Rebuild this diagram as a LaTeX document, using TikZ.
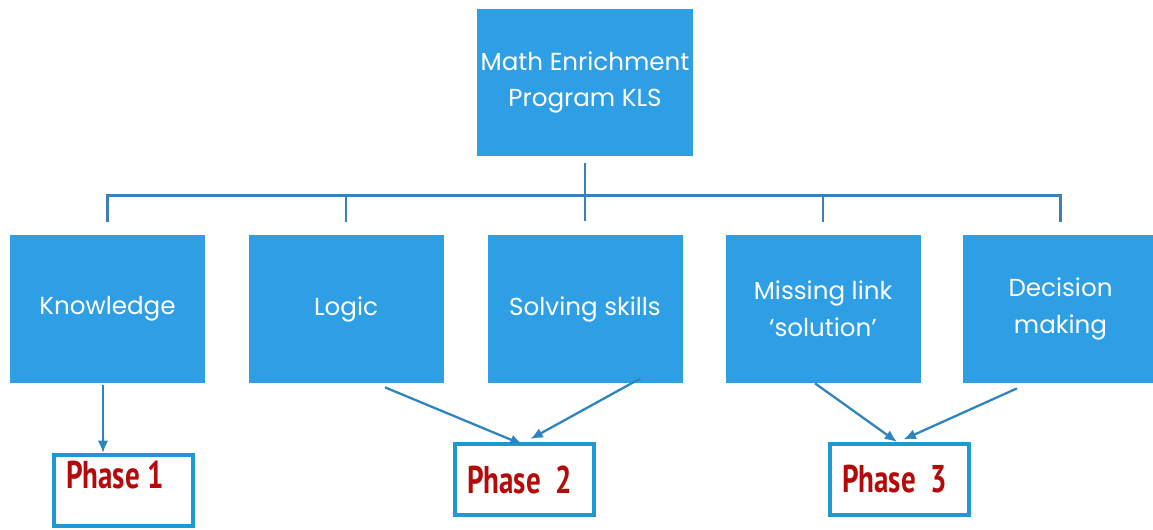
\documentclass[tikz,border=0pt]{standalone}
\usepackage{fontspec}
\usetikzlibrary{arrows.meta}
\setmainfont{Poppins}
\newfontfamily\phasefont[FakeStretch=0.75]{PT Sans}
\newcommand{\phaselabel}[1]{\makebox[2.3cm][l]{#1}}
\definecolor{boxblue}{HTML}{2E9FE5}
\definecolor{lineblue}{HTML}{3F7FB4}
\definecolor{arrowblue}{HTML}{2D85C0}
\definecolor{phasered}{HTML}{B40A0A}
\definecolor{frameblue}{HTML}{1D9BD0}

\begin{document}
\begin{tikzpicture}[
  mainbox/.style={fill=boxblue, text=white, minimum width=3.9cm,
    minimum height=2.96cm, align=center, inner sep=2pt,
    font=\fontsize{14}{21}\selectfont},
  phasebox/.style={draw=frameblue, line width=2.3pt, fill=white,
    inner xsep=0.24cm, inner ysep=0pt, minimum width=2.78cm,
    minimum height=1.42cm, text=phasered,
    font=\phasefont\bfseries\fontsize{22}{26}\selectfont},
  flow/.style={draw=arrowblue, line width=1.3pt, -{Latex[length=7pt,width=6pt]}},
  bus/.style={draw=lineblue, line width=1.6pt}]
\useasboundingbox (0,0) rectangle (23.06,10.58);

\node[mainbox, minimum width=4.3cm, minimum height=2.94cm] (mep) at (11.70,8.93)
     {Math Enrichment\\Program KLS};

\node[mainbox] (know) at (2.15,4.4)  {Knowledge};
\node[mainbox] (logic) at (6.92,4.4)  {Logic};
\node[mainbox] (solve) at (11.70,4.4)  {Solving skills};
\node[mainbox] (link) at (16.46,4.4)  {Missing link\\`solution'};
\node[mainbox] (dec) at (21.21,4.4)  {Decision\\making};

\node[phasebox, text height=0.5cm, text depth=0.6cm] (ph1) at (2.47,0.77)
     {\phaselabel{Phase 1}};
\node[phasebox] (ph2) at (10.49,0.99)  {\phaselabel{Phase\ \ 2}};
\node[phasebox] (ph3) at (17.99,0.99)  {\phaselabel{Phase\ \ 3}};

% tree
\draw[bus] ([yshift=-0.14cm]mep.south) -- ([yshift=0.28cm]solve.north);
\draw[bus] ([yshift=0.26cm]know.north) |- ([yshift=0.78cm]solve.north)
     -| ([yshift=0.26cm]dec.north);
\draw[bus] ([yshift=0.26cm]logic.north) -- ([yshift=0.78cm]logic.north);
\draw[bus] ([yshift=0.26cm]link.north) -- ([yshift=0.78cm]link.north);

% phases
\draw[flow] ([xshift=-0.09cm,yshift=-0.04cm]know.south)
     -- ([xshift=-0.09cm]know.south |- ph1.north);
\draw[flow] ([xshift=0.78cm,yshift=-0.08cm]logic.south)
     -- ([xshift=-0.04cm,yshift=-0.05cm]ph2.north);
\draw[flow] ([xshift=1.11cm,yshift=0.1cm]solve.south)
     -- ([xshift=0.12cm,yshift=0.06cm]ph2.north);
\draw[flow] ([xshift=-0.16cm]link.south)
     -- ([xshift=-0.05cm]ph3.north);
\draw[flow] ([xshift=-0.87cm,yshift=-0.1cm]dec.south)
     -- ([xshift=0.08cm,yshift=0.05cm]ph3.north);
\end{tikzpicture}
\end{document}
